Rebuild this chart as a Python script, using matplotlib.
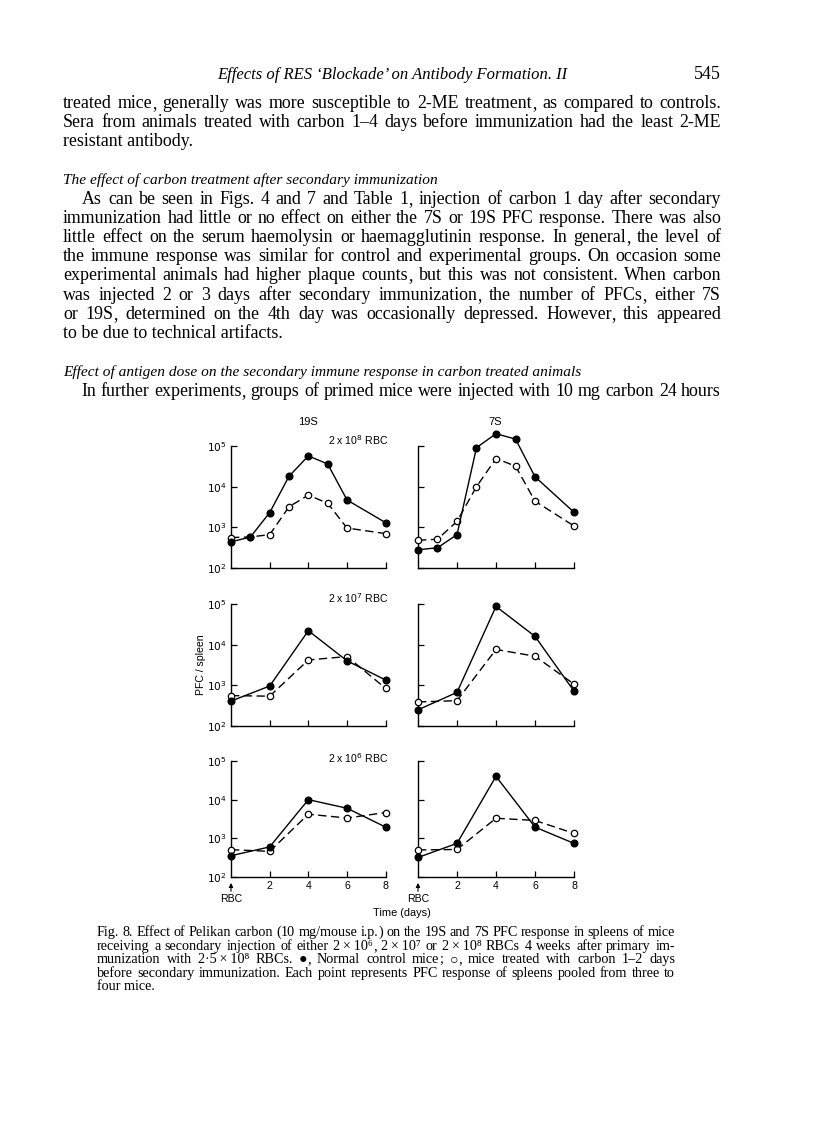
import math
import matplotlib
matplotlib.use('Agg')
import matplotlib.pyplot as plt
from matplotlib.ticker import NullLocator, FixedLocator, FuncFormatter

# ---------------- data ----------------
days_long = [0, 1, 2, 3, 4, 5, 6, 8]
days_short = [0, 2, 4, 6, 8]

s19_2e8_control = [440, 575, 2300, 18000, 57000, 36000, 4700, 1300]
s19_2e8_carbon = [560, 580, 660, 3200, 6200, 3900, 960, 700]
s7_2e8_control = [280, 315, 660, 91000, 200000, 148000, 17500, 2350]
s7_2e8_carbon = [480, 510, 1400, 10000, 49000, 32000, 4400, 1080]

s19_2e7_control = [410, 960, 22000, 4000, 1350]
s19_2e7_carbon = [560, 540, 4200, 5100, 840]
s7_2e7_control = [250, 670, 87000, 16000, 720]
s7_2e7_carbon = [390, 420, 7600, 5200, 1070]

s19_2e6_control = [355, 600, 10000, 6000, 1950]
s19_2e6_carbon = [510, 460, 4200, 3350, 4650]
s7_2e6_control = [320, 740, 40000, 1950, 740]
s7_2e6_carbon = [500, 515, 3300, 2900, 1340]

column_titles = ['19S', '7S']
dose_labels = [r'2 x 10$^8$ RBC', r'2 x 10$^7$ RBC', r'2 x 10$^6$ RBC']
x_tick_values = [2, 4, 6, 8]
y_tick_values = [1e2, 1e3, 1e4, 1e5]

# ---------------- page text ----------------
header = 'Effects of RES \u2018Blockade\u2019 on Antibody Formation. II'
page_no = '545'
para1 = ['treated mice, generally was more susceptible to 2-ME treatment, as compared to controls.',
         'Sera from animals treated with carbon 1\u20134 days before immunization had the least 2-ME',
         'resistant antibody.']
heading1 = 'The effect of carbon treatment after secondary immunization'
para2 = ['As can be seen in Figs. 4 and 7 and Table 1, injection of carbon 1 day after secondary',
         'immunization had little or no effect on either the 7S or 19S PFC response. There was also',
         'little effect on the serum haemolysin or haemagglutinin response. In general, the level of',
         'the immune response was similar for control and experimental groups. On occasion some',
         'experimental animals had higher plaque counts, but this was not consistent. When carbon',
         'was injected 2 or 3 days after secondary immunization, the number of PFCs, either 7S',
         'or 19S, determined on the 4th day was occasionally depressed. However, this appeared',
         'to be due to technical artifacts.']
heading2 = 'Effect of antigen dose on the secondary immune response in carbon treated animals'
para3 = ['In further experiments, groups of primed mice were injected with 10 mg carbon 24 hours']
TS = '\u2009'
caption = ['Fig. 8. Effect of Pelikan carbon (10 mg/mouse i.p.) on the 19S and 7S PFC response in spleens of mice',
           'receiving a secondary injection of either 2' + TS + '\u00d7' + TS + '10\u2076, 2' + TS + '\u00d7' + TS
           + '10\u2077 or 2' + TS + '\u00d7' + TS + '10\u2078 RBCs 4 weeks after primary im-',
           'munization with 2\u00b75' + TS + '\u00d7' + TS + '10\u2078 RBCs. \u25cf, Normal control mice; '
           + '\u25cb, mice treated with carbon 1\u20132 days',
           'before secondary immunization. Each point represents PFC response of spleens pooled from three to',
           'four mice.']

# ---------------- figure setup ----------------
W, H = 816, 1134
DPI = 100
fig = plt.figure(figsize=(W / DPI, H / DPI), dpi=DPI)
fig.patch.set_facecolor('white')
renderer = fig.canvas.get_renderer()

BODY = ['Liberation Serif', 'DejaVu Serif', 'DejaVu Sans']
ITAL = ['Liberation Serif', 'DejaVu Serif']
SANS = ['Liberation Sans', 'DejaVu Sans']
SPECIAL = set(',;()')


def fx(px):
    return px / W


def fy(py):
    return 1 - py / H


def measure(s, fs, **kw):
    t = fig.text(0, 0, s, fontsize=fs, **kw)
    w = t.get_window_extent(renderer).width
    t.remove()
    return w


def fit_size(s, target, **kw):
    return 10 * target / measure(s, 10, **kw)


def pieces(word):
    # split punctuation with descenders off, so every word keeps one baseline
    out, cur = [], ''
    for ch in word:
        if ch in SPECIAL:
            if cur:
                out.append(cur)
                cur = ''
            out.append(ch)
        else:
            cur += ch
    if cur:
        out.append(cur)
    return out


def put_line(s, yc, x0, x1, fs, justify=True, **kw):
    base = round(yc + 0.24 * fs * DPI / 72)
    if not justify:
        fig.text(fx(x0), fy(base), s, fontsize=fs, va='baseline', ha='left', **kw)
        return
    words = s.split(' ')
    wws = [measure(w, fs, **kw) for w in words]
    gap = (x1 - x0 - sum(wws)) / (len(words) - 1)
    x = x0
    for w, ww in zip(words, wws):
        ps = pieces(w)
        prefix = ''
        for p in ps:
            prefix += p
            if len(ps) == 1:
                off = 0.0
            else:
                off = measure(prefix, fs, **kw) - measure(p, fs, **kw)
                if prefix == p:
                    off = 0.0
            fig.text(fx(x + off), fy(base), p, fontsize=fs, va='baseline', ha='left', **kw)
        x += ww + gap


LEFT, RIGHT = 63, 721
LS = 19.2
body_kw = dict(family=BODY)
fs_body = fit_size(para1[0], 640, **body_kw)
fs_head = fit_size(heading2, 516, family=ITAL, style='italic')
fs_hdr = fit_size(header, 352, family=ITAL, style='italic')

# running header
base_h = round(75 + 0.24 * fs_hdr * DPI / 72)
fig.text(fx(392), fy(base_h), header, fontsize=fs_hdr, family=ITAL, style='italic',
         ha='center', va='baseline')
fig.text(fx(RIGHT), fy(base_h), page_no, fontsize=fs_body, family=BODY, ha='right', va='baseline')

y = 103.3
for i, ln in enumerate(para1):
    put_line(ln, y, LEFT, RIGHT, fs_body, justify=(i < len(para1) - 1), **body_kw)
    y += LS
y += LS
put_line(heading1, y, LEFT, RIGHT, fs_head, justify=False, family=ITAL, style='italic')
y += LS
for i, ln in enumerate(para2):
    x0 = LEFT + 19 if i == 0 else LEFT
    put_line(ln, y, x0, RIGHT, fs_body, justify=(i < len(para2) - 1), **body_kw)
    y += LS
y += LS
put_line(heading2, y, LEFT, RIGHT, fs_head, justify=False, family=ITAL, style='italic')
y += LS
put_line(para3[0], y, LEFT + 18, RIGHT, fs_body, justify=True, **body_kw)

# caption
cap_kw = dict(family=BODY)
CL, CR = 97, 675
fs_cap = fit_size(caption[3], 568, **cap_kw)
yc = 933
for i, ln in enumerate(caption):
    put_line(ln, yc, CL, CR, fs_cap, justify=(i < len(caption) - 1), **cap_kw)
    yc += 13.5

# ---------------- panels ----------------
col_x = [(231, 385.7), (418, 574)]
row_y = [(568, 138.3), (726, 138.3), (877, 131.5)]

panel_data = [
    [(days_long, s19_2e8_control, s19_2e8_carbon), (days_long, s7_2e8_control, s7_2e8_carbon)],
    [(days_short, s19_2e7_control, s19_2e7_carbon), (days_short, s7_2e7_control, s7_2e7_carbon)],
    [(days_short, s19_2e6_control, s19_2e6_carbon), (days_short, s7_2e6_control, s7_2e6_carbon)],
]

FS_FIG = 7.6
for r, (ybot, hgt) in enumerate(row_y):
    for c, (xl, xr) in enumerate(col_x):
        ax = fig.add_axes([fx(xl), fy(ybot), (xr - xl) / W, hgt / H])
        ax.set_facecolor('none')
        xs, ctrl, carb = panel_data[r][c]
        ax.plot(xs, carb, ls=(0, (6, 3.2)), color='k', lw=1.0, marker='o', ms=4.6,
                mfc='white', mec='k', mew=0.9, zorder=3, clip_on=False)
        ax.plot(xs, ctrl, ls='-', color='k', lw=1.0, marker='o', ms=4.8,
                mfc='k', mec='k', zorder=4, clip_on=False)
        ax.set_yscale('log')
        ax.set_ylim(1e2, 10 ** 5.4)
        ax.set_xlim(0, 8)
        for s in ('top', 'right'):
            ax.spines[s].set_visible(False)
        ax.spines['left'].set_bounds(1e2, 1e5)
        ax.spines['left'].set_linewidth(1.0)
        ax.spines['bottom'].set_linewidth(1.0)
        ax.xaxis.set_major_locator(FixedLocator(x_tick_values))
        ax.yaxis.set_major_locator(FixedLocator(y_tick_values))
        ax.yaxis.set_minor_locator(NullLocator())
        ax.xaxis.set_minor_locator(NullLocator())
        ax.tick_params(axis='both', direction='in', length=4.5, width=0.9, pad=3,
                       labelsize=FS_FIG, colors='k')
        for lab in ax.get_xticklabels() + ax.get_yticklabels():
            lab.set_family(SANS)
        if c == 0:
            ax.yaxis.set_major_formatter(FuncFormatter(lambda v, p: r'$10^{%d}$' % round(math.log10(v))))
        else:
            ax.set_yticklabels([])
        if r < 2:
            ax.set_xticklabels([])
        else:
            ax.set_xticklabels([str(v) for v in x_tick_values])
            ax.annotate('RBC', xy=(0, -0.045), xycoords=('data', 'axes fraction'),
                        xytext=(0, -0.13), textcoords=('data', 'axes fraction'),
                        ha='center', va='top', fontsize=FS_FIG, family=SANS,
                        annotation_clip=False,
                        arrowprops=dict(arrowstyle='-|>', color='k', lw=0.8,
                                        mutation_scale=6, shrinkA=0, shrinkB=0))

# panel labels
fig.text(fx(308), fy(422), column_titles[0], ha='center', va='center', fontsize=FS_FIG + 0.4, family=SANS)
fig.text(fx(495), fy(422), column_titles[1], ha='center', va='center', fontsize=FS_FIG + 0.4, family=SANS)
for lab, yy in zip(dose_labels, [440, 598, 758]):
    fig.text(fx(358), fy(yy), lab, ha='center', va='center', fontsize=FS_FIG, family=SANS)
fig.text(fx(201), fy(665), 'PFC / spleen', rotation=90, ha='center', va='center',
         fontsize=FS_FIG, family=SANS)
fig.text(fx(402), fy(913), 'Time (days)', ha='center', va='center', fontsize=FS_FIG + 0.3, family=SANS)

fig.savefig('out.png', dpi=DPI, facecolor='white')
